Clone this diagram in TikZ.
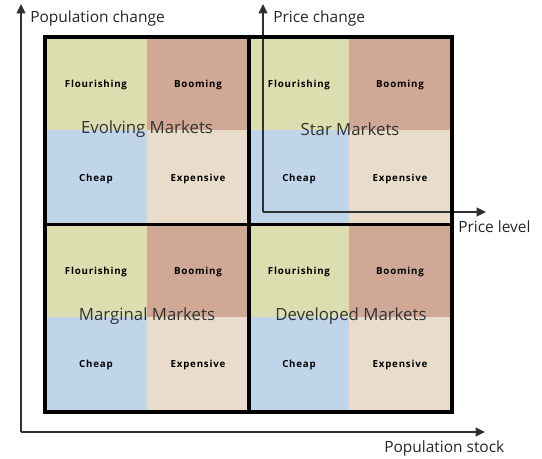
\documentclass[tikz,border=0pt]{standalone}
\usepackage{fontspec}
\setmainfont{Open Sans}
\newfontfamily\cellfont[LetterSpace=8]{Open Sans}
\usetikzlibrary{arrows.meta}
\definecolor{flour}{HTML}{DCDEB0}
\definecolor{boom}{HTML}{D1A896}
\definecolor{cheap}{HTML}{C0D5EA}
\definecolor{expen}{HTML}{E9DCCB}
\definecolor{axisc}{HTML}{303030}
\tikzset{
  cell/.style={inner sep=0pt,font=\cellfont\bfseries\fontsize{7.3}{8}\selectfont,text=black},
  market/.style={inner sep=0pt,font=\fontsize{12.6}{14}\selectfont,text=black!80},
  axlabel/.style={inner sep=0pt,font=\fontsize{11.6}{13}\selectfont,text=black!85},
  axis/.style={draw=axisc,line width=1.4pt,-{Triangle[length=7pt,width=6.5pt]}},
  frame/.style={draw=black,line width=2.6pt}
}
\begin{document}
\begin{tikzpicture}[x=0.75pt,y=-0.75pt]
\useasboundingbox (0,0) rectangle (542,459);
% quadrant fills
\foreach \xa/\xs/\xb/\ya/\ys/\yb in {45/147/249/37/130/224, 249/349/452/37/130/224, 45/147/249/224/317/412, 249/349/452/224/317/412}{
  \fill[flour] (\xa,\ya) rectangle (\xs,\ys);
  \fill[boom] (\xs,\ya) rectangle (\xb,\ys);
  \fill[cheap] (\xa,\ys) rectangle (\xs,\yb);
  \fill[expen] (\xs,\ys) rectangle (\xb,\yb);
}
% cell labels
\foreach \xa/\xb/\ya/\yb/\k in {96/198/85/179/a, 299/400/85/179/b, 96/198/272/365/c, 299/400/272/365/d}{
  \node[cell] (fl\k) at (\xa,\ya) {Flourishing};
  \node[cell] (bo\k) at (\xb,\ya) {Booming};
  \node[cell] (ch\k) at (\xa,\yb) {Cheap};
  \node[cell] (ex\k) at (\xb,\yb) {Expensive};
}
% inner axes (Price)
\coordinate (po) at (263,212);
\coordinate (pt) at (263,4);
\coordinate (pr) at (486,212);
\draw[axis] (po) -- (pt);
\draw[axis] (po) -- (pr);
% market labels
\node[market] (evo) at (147,129) {Evolving Markets};
\node[market] (star) at (350,129) {Star Markets};
\node[market] (marg) at (147,316) {Marginal Markets};
\node[market] (dev) at (351,316) {Developed Markets};
% grid frame
\draw[frame] (45,37) rectangle (452,412);
\draw[frame] (249,37) -- (249,412);
\draw[frame] (45,224.5) -- (452,224.5);
% outer axes (Population)
\coordinate (o) at (21,432);
\coordinate (top) at (21,4);
\coordinate (right) at (485,432);
\draw[axis] (o) -- (top);
\draw[axis] (o) -- (right);
% axis labels
\node[axlabel,anchor=west] (pc) at (30,18) {Population change};
\node[axlabel,anchor=west] (prc) at (273,18) {Price change};
\node[axlabel,anchor=west] (pl) at (458,227) {Price level};
\node[axlabel,anchor=west] (ps) at (384,448) {Population stock};
\end{tikzpicture}
\end{document}
